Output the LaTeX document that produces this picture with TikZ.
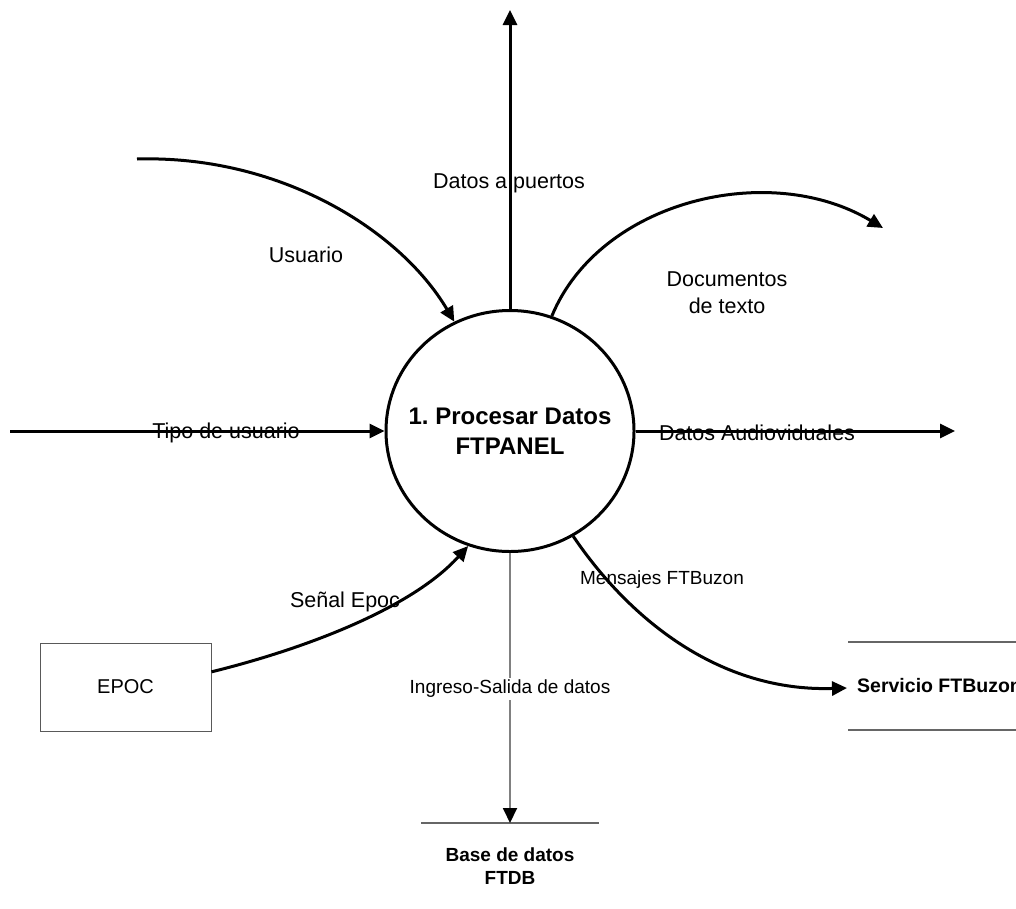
\documentclass[tikz,border=0pt]{standalone}
\usepackage{fontspec}
\setmainfont{Liberation Sans}
\usetikzlibrary{arrows.meta,shapes.geometric}

\begin{document}
\frenchspacing
\begin{tikzpicture}[x=1pt,y=-1pt,
  flow/.style={line width=3pt, -{Triangle[length=15pt,width=14pt]}},
  dataflow/.style={draw=gray, line width=1.8pt, -{Triangle[length=15pt,width=14pt,color=black]}},
  lbl/.style={font=\fontsize{21.5}{27}\selectfont, inner sep=0pt, align=center},
  smalllbl/.style={lbl, font=\fontsize{19}{24}\selectfont},
  process/.style={ellipse, draw, line width=3pt, fill=white,
    minimum width=248pt, minimum height=241pt, inner sep=0pt,
    font=\bfseries\fontsize{24}{30}\selectfont, align=center},
  entity/.style={draw=gray!70!black, line width=1pt, minimum width=171pt,
    minimum height=88pt, font=\fontsize{20}{24}\selectfont},
  storeline/.style={draw=gray!80!black, line width=1.3pt},
  storetext/.style={font=\bfseries\fontsize{19}{23}\selectfont, align=center, inner sep=0pt}]

\useasboundingbox (0,0) rectangle (1016,908);
\clip (0,0) rectangle (1016,908);
\fill[white] (0,0) rectangle (1016,908);

% flow labels (lines are drawn over them)
\node[lbl] (lusr) at (306,255) {Usuario};
\node[lbl] (lpuertos) at (509,183) {Datos a puertos};
\node[lbl] (ldoc) at (727,293) {Documentos\\de texto};
\node[lbl] (ltipo) at (226,433) {Tipo de usuario};
\node[lbl] (laudio) at (757,433) {Datos Audioviduales};
\node[smalllbl] (lmsj) at (662,580) {Mensajes FTBuzon};
\node[lbl] (lsenal) at (345,602) {Señal Epoc};

% process bubble (zero-width lines keep the bubble at its set size)
\node[process] (proc) at (510,431)
  {\makebox[0pt]{1. Procesar Datos}\\\makebox[0pt]{FTPANEL}};

% external entity
\node[entity] (epoc) at (125.5,687) {EPOC};

% data store FTDB
\coordinate (dbL) at (421,823);
\coordinate (dbR) at (599,823);
\coordinate (dbin) at (510,823);
\draw[storeline] (dbL) -- (dbR);
\node[storetext] (ftdb) at (510,866) {Base de datos\\FTDB};

% data store FTBuzon
\coordinate (buzTL) at (848,642);
\coordinate (buzTR) at (1030,642);
\coordinate (buzBL) at (848,730);
\coordinate (buzBR) at (1030,730);
\coordinate (buzin) at (847,688);
\draw[storeline] (buzTL) -- (buzTR);
\draw[storeline] (buzBL) -- (buzBR);
\node[storetext, anchor=west, font=\bfseries\fontsize{19.5}{23}\selectfont] (ftbuzon) at (857,686) {Servicio FTBuzon};

% free ends of the flows
\coordinate (tipoIn) at (10,431);
\coordinate (audioOut) at (955,431);
\coordinate (puertosOut) at (510,10);
\coordinate (usrIn) at (137,159);
\coordinate (docOut) at (883,228);

% flows
\draw[flow] (tipoIn) -- (proc.west);
\draw[flow] (proc.east) -- (audioOut);
\draw[flow] (proc.north) -- (puertosOut);
\draw[flow] (usrIn) .. controls (280,155) and (400,230) .. (proc.117);
\draw[flow] (proc.70) .. controls (600,200) and (770,160) .. (docOut);
\draw[flow] (epoc.10) .. controls (300,650) and (410,610) .. (proc.250);
\draw[flow] (proc.301) .. controls (630,620) and (720,692) .. (buzin);
\draw[dataflow] (proc.south) -- (dbin);

\node[smalllbl, fill=white, inner sep=2pt] (lingreso) at (510,689) {Ingreso-Salida de datos};
\end{tikzpicture}
\end{document}
